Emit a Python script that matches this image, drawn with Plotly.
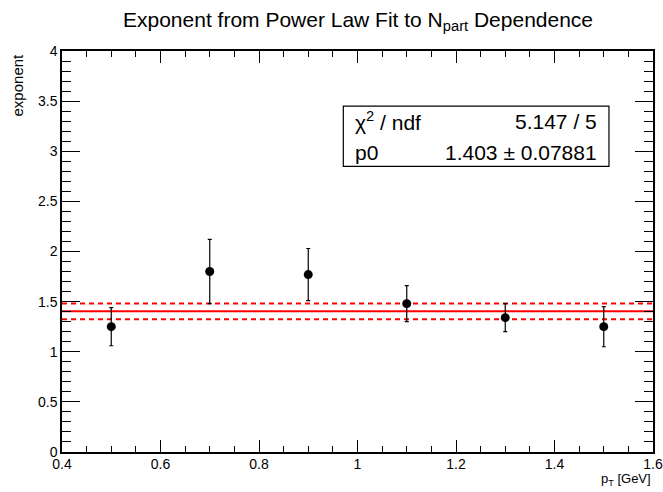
import plotly.graph_objects as go

# data
pt = [0.5, 0.7, 0.9, 1.1, 1.3, 1.5]
exponent = [1.25, 1.80, 1.77, 1.48, 1.34, 1.25]
exponent_err = [0.19, 0.32, 0.26, 0.18, 0.14, 0.20]

fit_p0 = 1.403
fit_err = 0.07881
chi2 = 5.147
ndf = 5
fit_range = [0.4, 1.6]

FONT = "Liberation Sans, Arial, Helvetica, sans-serif"

fig = go.Figure()

# fit: central value and +-1 sigma band
fig.add_trace(go.Scatter(x=fit_range, y=[fit_p0, fit_p0], mode="lines",
                         line=dict(color="#ff0000", width=2), showlegend=False))
for s in (1, -1):
    v = fit_p0 + s * fit_err
    fig.add_trace(go.Scatter(x=fit_range, y=[v, v], mode="lines",
                             line=dict(color="#ff0000", width=2, dash="5px,4px"),
                             showlegend=False))

fig.add_trace(go.Scatter(
    x=pt, y=exponent, mode="markers",
    marker=dict(color="black", size=9),
    error_y=dict(type="data", array=exponent_err, color="black", thickness=1.2, width=2),
    showlegend=False,
))

axis_common = dict(
    showgrid=False, zeroline=False, showline=True, linecolor="black", linewidth=1.5,
    mirror="ticks", ticks="inside", tickcolor="black", automargin=False,
    ticklabeloverflow="allow",
    tickfont=dict(family=FONT, size=14, color="black"),
)

fig.update_xaxes(range=[0.4, 1.6], dtick=0.2, tick0=0.4, ticklen=12,
                 tickformat="~g", ticklabelstandoff=-2,
                 minor=dict(dtick=0.05, ticks="inside", ticklen=6, tickcolor="black"),
                 **axis_common)
fig.update_yaxes(range=[0, 4], dtick=0.5, tick0=0, ticklen=18,
                 tickformat="~g",
                 minor=dict(dtick=0.1, ticks="inside", ticklen=9, tickcolor="black"),
                 **axis_common)

# stats box
fig.add_shape(type="rect", xref="paper", yref="paper",
              x0=0.476, x1=0.9255, y0=0.7125, y1=0.8625,
              line=dict(color="black", width=1.2), fillcolor="white", layer="above")

stat_font = dict(family=FONT, size=21, color="black")
fig.add_annotation(xref="paper", yref="paper", x=0.492, y=0.825, xanchor="left",
                   yanchor="middle", text="χ<sup>2</sup> / ndf", showarrow=False, font=stat_font)
fig.add_annotation(xref="paper", yref="paper", x=0.908, y=0.825, xanchor="right",
                   yanchor="middle", text=f"{chi2} / {ndf}", showarrow=False, font=stat_font)
fig.add_annotation(xref="paper", yref="paper", x=0.492, y=0.746, xanchor="left",
                   yanchor="middle", text="p0", showarrow=False, font=stat_font)
fig.add_annotation(xref="paper", yref="paper", x=0.908, y=0.746, xanchor="right",
                   yanchor="middle", text=f"{fit_p0} ± {fit_err}", showarrow=False,
                   font=stat_font)

# axis titles, ROOT style
fig.add_annotation(xref="paper", yref="paper", x=-0.0745, y=1.0, xanchor="center",
                   yanchor="top", textangle=-90, text="exponent", showarrow=False,
                   font=dict(family=FONT, size=15, color="black"))
fig.add_annotation(xref="paper", yref="paper", x=1.0, y=-0.068, xanchor="right",
                   yanchor="middle", text="p<sub>T</sub> [GeV]", showarrow=False,
                   font=dict(family=FONT, size=13, color="black"))

fig.update_layout(
    width=663, height=492,
    margin=dict(l=62, r=10, t=51, b=40),
    paper_bgcolor="white", plot_bgcolor="white",
    title=dict(text="Exponent from Power Law Fit to N<sub>part</sub> Dependence",
               x=0.54, xanchor="center", y=0.961, yanchor="middle",
               font=dict(family=FONT, size=21, color="black")),
)

# drop the default page margin so the figure fills the window exactly
fig.write_html(
    "out.html",
    config={"displayModeBar": False},
    post_script="document.body.style.margin='0';"
                "document.documentElement.style.overflow='hidden';",
)
